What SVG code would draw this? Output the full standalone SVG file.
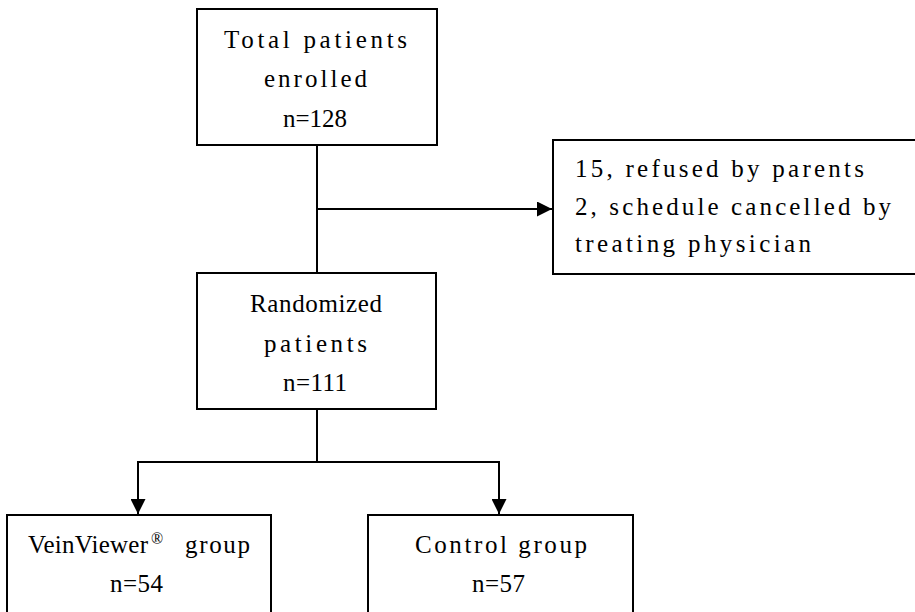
<svg xmlns="http://www.w3.org/2000/svg" width="915" height="612" viewBox="0 0 915 612">
<defs>
<style>
.box{fill:#fff;stroke:#000;stroke-width:2}
.t{font-family:"Liberation Serif","DejaVu Serif","Times New Roman",serif;font-size:25px;fill:#000}
.sup{font-family:"Liberation Serif","DejaVu Serif","Times New Roman",serif;font-size:16px;fill:#000}
.ln{fill:none;stroke:#000;stroke-width:2}
</style>
<marker id="ah" viewBox="0 0 10 10" refX="10" refY="5" markerWidth="7.5" markerHeight="7.5" markerUnits="strokeWidth" orient="auto">
<path d="M0,0 L10,5 L0,10 Z" fill="#000"/>
</marker>
</defs>
<rect width="915" height="612" fill="#fff"/>
<g id="connectors">
<line class="ln" x1="317" y1="145" x2="317" y2="273"/>
<line class="ln" x1="317" y1="209" x2="552" y2="209" marker-end="url(#ah)"/>
<line class="ln" x1="317" y1="409" x2="317" y2="462"/>
<polyline class="ln" points="138,500 138,462 499,462 499,500"/>
<line class="ln" x1="138" y1="462" x2="138" y2="514" marker-end="url(#ah)"/>
<line class="ln" x1="499" y1="462" x2="499" y2="514" marker-end="url(#ah)"/>
</g>
<g id="total">
<rect class="box" x="197" y="9" width="240" height="136"/>
<text class="t" x="224" y="48" textLength="183" lengthAdjust="spacing">Total patients</text>
<text class="t" x="264" y="87" textLength="103" lengthAdjust="spacing">enrolled</text>
<text class="t" x="283" y="127" textLength="64" lengthAdjust="spacing">n=128</text>
</g>
<g id="excluded">
<rect class="box" x="553" y="140" width="366" height="134"/>
<text class="t" x="575" y="177" textLength="289" lengthAdjust="spacing">15, refused by parents</text>
<text class="t" x="575" y="215" textLength="316" lengthAdjust="spacing">2, schedule cancelled by</text>
<text class="t" x="575" y="252" textLength="236" lengthAdjust="spacing">treating physician</text>
</g>
<g id="randomized">
<rect class="box" x="197" y="273" width="239" height="136"/>
<text class="t" x="250" y="312" textLength="132" lengthAdjust="spacing">Randomized</text>
<text class="t" x="264" y="352" textLength="103" lengthAdjust="spacing">patients</text>
<text class="t" x="283" y="391" textLength="64" lengthAdjust="spacing">n=111</text>
</g>
<g id="veinviewer">
<rect class="box" x="7" y="515" width="264" height="110"/>
<text class="t" x="28" y="553" textLength="120" lengthAdjust="spacing">VeinViewer</text>
<text class="sup" x="151" y="544">®</text>
<text class="t" x="185" y="553" textLength="65" lengthAdjust="spacing">group</text>
<text class="t" x="110" y="592" textLength="53" lengthAdjust="spacing">n=54</text>
</g>
<g id="control">
<rect class="box" x="368" y="515" width="265" height="110"/>
<text class="t" x="415" y="553" textLength="172" lengthAdjust="spacing">Control group</text>
<text class="t" x="472" y="592" textLength="53" lengthAdjust="spacing">n=57</text>
</g>
</svg>
